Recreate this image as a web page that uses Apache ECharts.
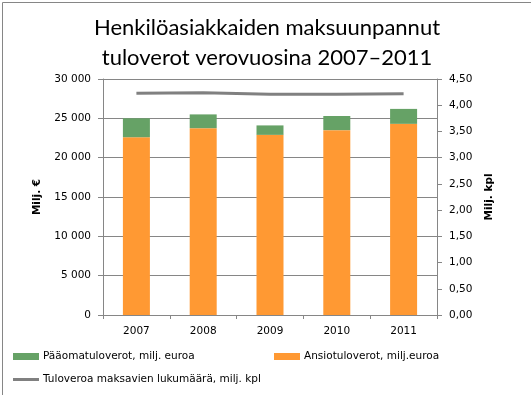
<!DOCTYPE html>
<html>
<head>
<meta charset="utf-8">
<script src="https://cdn.jsdelivr.net/npm/echarts@6/dist/echarts.min.js"></script>
<style>
html,body{margin:0;padding:0;background:#fff;}
#c{width:531px;height:395px;}
</style>
</head>
<body>
<div id="c"></div>
<script>
const years = ['2007', '2008', '2009', '2010', '2011'];
const ansiotuloverot = [22600, 23750, 22900, 23500, 24300];
const paaomatuloverot = [2400, 1750, 1200, 1800, 1900];
const maksajat = [4.23, 4.24, 4.21, 4.21, 4.22];
const leftTicks = [0, 5000, 10000, 15000, 20000, 25000, 30000];
const rightTicks = [0, 0.5, 1, 1.5, 2, 2.5, 3, 3.5, 4, 4.5];

const tickFont = {fontFamily: 'DejaVu Sans', fontSize: 10.5, color: '#000'};
const chart = echarts.init(document.getElementById('c'));
chart.setOption({
  animation: false,
  backgroundColor: '#fff',
  graphic: [{
    type: 'rect', left: 0, top: 0,
    shape: {x: 0.5, y: 0.5, width: 529, height: 393},
    style: {fill: 'none', stroke: '#868686', lineWidth: 1}
  }],
  title: {
    text: 'Henkilöasiakkaiden maksuunpannut\ntuloverot verovuosina 2007–2011',
    left: 262, textAlign: 'center', top: 8,
    textStyle: {fontFamily: 'Lato', fontWeight: 'normal', fontSize: 22, lineHeight: 30, color: '#000'}
  },
  legend: [
    {data: ['Pääomatuloverot, milj. euroa'], left: 8, top: 346, itemWidth: 26, itemHeight: 7, itemGap: 4,
     icon: 'rect', textStyle: Object.assign({}, tickFont, {padding: [0, 0, 0, -1]})},
    {data: ['Ansiotuloverot, milj.euroa'], left: 269, top: 346, itemWidth: 26, itemHeight: 7,
     icon: 'rect', textStyle: Object.assign({}, tickFont, {padding: [0, 0, 0, -1]})},
    {data: ['Tuloveroa maksavien lukumäärä, milj. kpl'], left: 8, top: 369, itemWidth: 26, itemHeight: 3,
     icon: 'rect', textStyle: Object.assign({}, tickFont, {padding: [0, 0, 0, -1]})}
  ],
  grid: {left: 103, right: 94, top: 79, bottom: 80},
  xAxis: {
    type: 'category', data: years,
    axisLine: {lineStyle: {color: '#868686', width: 1}},
    axisTick: {show: true, length: 4, lineStyle: {color: '#868686'}},
    axisLabel: Object.assign({}, tickFont, {margin: 11})
  },
  yAxis: [
    {
      type: 'value', min: 0, max: 30000, interval: 5000,
      name: 'Milj. €', nameLocation: 'middle', nameGap: 60, nameRotate: 90,
      nameTextStyle: {fontFamily: 'DejaVu Sans', fontSize: 10.5, fontWeight: 'bold', color: '#000'},
      axisLine: {show: true, lineStyle: {color: '#868686'}},
      axisTick: {show: true, length: 5, lineStyle: {color: '#868686'}},
      splitLine: {show: true, lineStyle: {color: '#868686', width: 1}},
      axisLabel: Object.assign({}, tickFont, {margin: 12, formatter: v => String(v).replace(/\B(?=(\d{3})+(?!\d))/g, ' ')})
    },
    {
      type: 'value', min: 0, max: 4.5, interval: 0.5, position: 'right',
      name: 'Milj. kpl', nameLocation: 'middle', nameGap: 47, nameRotate: 90,
      nameTextStyle: {fontFamily: 'DejaVu Sans', fontSize: 10.5, fontWeight: 'bold', color: '#000'},
      axisLine: {show: true, lineStyle: {color: '#868686'}},
      axisTick: {show: true, length: 5, lineStyle: {color: '#868686'}},
      splitLine: {show: false},
      axisLabel: Object.assign({}, tickFont, {margin: 12, formatter: v => v.toFixed(2).replace('.', ',')})
    }
  ],
  series: [
    {name: 'Ansiotuloverot, milj.euroa', type: 'bar', stack: 'tot', data: ansiotuloverot,
     barWidth: 27, itemStyle: {color: '#FF9933'}, z: 2},
    {name: 'Pääomatuloverot, milj. euroa', type: 'bar', stack: 'tot', data: paaomatuloverot,
     barWidth: 27, itemStyle: {color: '#66A266'}, z: 2},
    {name: 'Tuloveroa maksavien lukumäärä, milj. kpl', type: 'line', yAxisIndex: 1, data: maksajat,
     symbol: 'none', lineStyle: {color: '#808080', width: 3}, itemStyle: {color: '#808080'}, z: 3}
  ]
});
</script>
</body>
</html>
